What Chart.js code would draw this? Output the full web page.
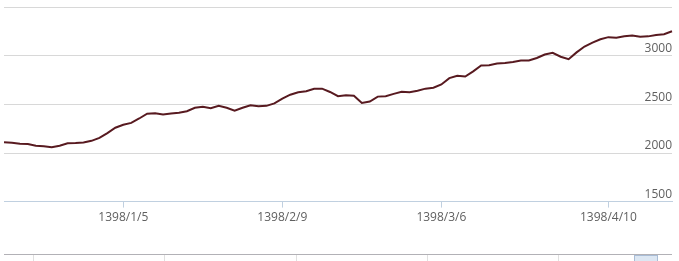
<!DOCTYPE html>
<html>
<head>
<meta charset="utf-8">
<script src="https://cdn.jsdelivr.net/npm/chart.js@4"></script>
<style>
  html, body { margin: 0; padding: 0; background: #fff; }
  #wrap { width: 679px; height: 261px; position: relative; }
</style>
</head>
<body>
<div id="wrap"><canvas id="price-chart"></canvas></div>
<script>
// index values (one per trading day)
const values = [
  2110, 2105, 2095, 2093, 2075, 2070, 2060, 2075, 2100, 2102,
  2107, 2125, 2155, 2205, 2260, 2290, 2310, 2355, 2405, 2410,
  2395, 2407, 2415, 2430, 2465, 2475, 2460, 2485, 2465, 2435,
  2465, 2492, 2480, 2485, 2510, 2560, 2600, 2625, 2635, 2660,
  2662, 2628, 2585, 2595, 2590, 2515, 2530, 2580, 2585, 2608,
  2630, 2625, 2640, 2662, 2672, 2705, 2770, 2795, 2787, 2840,
  2900, 2902, 2920, 2925, 2937, 2952, 2952, 2977, 3013, 3030,
  2990, 2965, 3035, 3095, 3135, 3170, 3192, 3187, 3200, 3210,
  3197, 3200, 3215, 3222, 3252
];
const categories = values.map((v, i) => i);

// dated ticks on the time axis
const tickIndex = [15, 35, 55, 76];
const tickText = ['1398/1/5', '1398/2/9', '1398/3/6', '1398/4/10'];

// value axis
const yMin = 1500;
const yMax = 3500;
const yStep = 500;

const labelColor = '#606060';
const axisColor = '#C0D0E0';

// navigator strip under the axis (decoration only)
const navigatorStrip = {
  id: 'navigatorStrip',
  afterDraw(chart) {
    const ctx = chart.ctx;
    const area = chart.chartArea;
    ctx.save();
    ctx.strokeStyle = '#b2b1b6';
    ctx.lineWidth = 1;
    ctx.beginPath();
    ctx.moveTo(area.left, 254.5);
    ctx.lineTo(area.right, 254.5);
    ctx.stroke();
    ctx.strokeStyle = '#e0e0e0';
    [33, 164, 296, 427, 558].forEach(x => {
      ctx.beginPath();
      ctx.moveTo(x + 0.5, 255);
      ctx.lineTo(x + 0.5, 261);
      ctx.stroke();
    });
    ctx.fillStyle = '#dce7f3';
    ctx.strokeStyle = '#a9bdd6';
    ctx.fillRect(634, 255, 24, 6);
    ctx.strokeRect(634.5, 255.5, 23, 6);
    ctx.restore();
  }
};

const ctx = document.getElementById('price-chart').getContext('2d');
const priceChart = new Chart(ctx, {
  type: 'line',
  data: {
    labels: categories,
    datasets: [{
      data: values,
      borderColor: '#581a20',
      borderWidth: 2,
      pointRadius: 0,
      tension: 0,
      fill: false
    }]
  },
  options: {
    responsive: true,
    maintainAspectRatio: false,
    animation: false,
    layout: { padding: { left: 4, right: 7, top: 1, bottom: 33 } },
    plugins: {
      legend: { display: false },
      tooltip: { enabled: false }
    },
    scales: {
      x: {
        type: 'category',
        offset: false,
        afterBuildTicks: (scale) => {
          scale.ticks = tickIndex.map(v => ({ value: v }));
        },
        grid: {
          drawOnChartArea: false,
          drawTicks: true,
          tickLength: 6,
          color: axisColor
        },
        border: { display: true, color: axisColor },
        ticks: {
          autoSkip: false,
          maxRotation: 0,
          padding: 3,
          color: labelColor,
          font: { family: 'Open Sans', size: 12 },
          callback: (value) => {
            const i = tickIndex.indexOf(value);
            return i >= 0 ? tickText[i] : '';
          }
        }
      },
      y: {
        position: 'right',
        min: yMin,
        max: yMax,
        grid: { color: '#D8D8D8', drawTicks: false },
        border: { display: false },
        ticks: {
          stepSize: yStep,
          mirror: true,
          padding: 0,
          labelOffset: -7,
          color: labelColor,
          font: { family: 'Open Sans', size: 12 },
          callback: (value) => value === yMax ? '' : value
        }
      }
    }
  },
  plugins: [navigatorStrip]
});
</script>
</body>
</html>
